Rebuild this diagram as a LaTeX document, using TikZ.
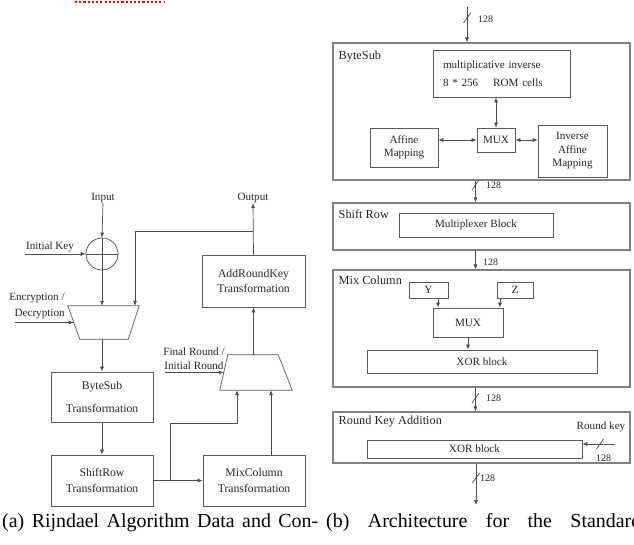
\documentclass[tikz,border=0pt]{standalone}
\usepackage{fontspec}
\setmainfont{Liberation Serif}
\usetikzlibrary{calc,positioning,arrows.meta}
\tikzset{
  wire/.style={draw=black!70, line width=0.6pt},
  arr/.style={wire, -{Latex[length=1.5mm,width=1.2mm]}},
  darr/.style={wire, {Latex[length=1.5mm,width=1.2mm]}-{Latex[length=1.5mm,width=1.2mm]}},
  blk/.style={draw=black!65, line width=0.6pt, rectangle, inner sep=0pt, align=center, text=black!85, font=\fontsize{10}{12}\selectfont},
  inblk/.style={blk, font=\fontsize{9.5}{11.5}\selectfont},
  stage/.style={draw=black!50, line width=0.9pt, rectangle, inner sep=0pt},
  stagelbl/.style={inner sep=0pt, anchor=west, text=black!85, font=\fontsize{10.5}{12.5}\selectfont},
  muxframe/.style={rectangle, inner sep=0pt},
  muxline/.style={draw=black!65, line width=0.6pt},
  lbl/.style={inner sep=0pt, align=center, text=black!85, font=\fontsize{9.5}{11.5}\selectfont},
  buslbl/.style={inner sep=0pt, anchor=west, text=black!85, font=\fontsize{8.5}{10}\selectfont},
  caption/.style={inner sep=0pt, anchor=base west, font=\fontsize{17}{20}\selectfont}
}
% slash across a bus
\newcommand{\busmark}[1]{\draw [wire] ($(#1)+(-3.5,5)$) -- ($(#1)+(3.5,-5)$);}

\begin{document}
\begin{tikzpicture}[x=0.3mm,y=-0.3mm]
  \useasboundingbox (0,0) rectangle (634,545);

  \draw [red, line width=1.2pt, dash pattern=on 1.8pt off 1.8pt] (75,2) -- (165,2);

  % (a) data and control flow
  \node [lbl] at (103,198) (input) {Input};
  \node [draw=black!70, line width=0.6pt, circle, minimum size=9.6mm, inner sep=0pt] at (102,254) (keyxor) {};
  \draw [wire] (keyxor.north) -- (keyxor.south) (keyxor.west) -- (keyxor.east);
  \node [lbl] at (50,247) (keylbl) {Initial Key};
  \coordinate (keyin) at (25,254);

  \node [muxframe, minimum width=21.3mm, minimum height=9.9mm] at (103.5,322.5) (selin) {};
  \draw [muxline] (selin.north west) -- (selin.north east) -- ($(selin.south east)+(-11,0)$) -- ($(selin.south west)+(12,0)$) -- cycle;
  \node [lbl, align=right] at (37,306) (enclbl) {Encryption /\\[1mm]Decryption};
  \coordinate (encin) at (15,322.5);

  \node [blk, minimum width=30.6mm, minimum height=15mm] at (102,397) (bytesub) {ByteSub\\[2.4mm]Transformation};
  \node [blk, minimum width=30.6mm, minimum height=15.3mm] at (102,480.5) (shiftrow) {ShiftRow\\[0.6mm]Transformation};
  \node [blk, minimum width=30.6mm, minimum height=15.3mm] at (254,480.5) (mixcol) {MixColumn\\[0.6mm]Transformation};

  \node [muxframe, minimum width=21.6mm, minimum height=10.5mm] at (256,372.5) (selout) {};
  \draw [muxline] ($(selout.north west)+(8,0)$) -- ($(selout.north east)+(-14,0)$) -- (selout.south east) -- (selout.south west) -- cycle;
  \node [lbl] at (194,358.5) (finlbl) {Final Round /\\Initial Round};
  \coordinate (finin) at (165,372.5);

  \node [blk, minimum width=30.9mm, minimum height=15.6mm] at (253.5,281) (addkey) {AddRoundKey\\Transformation};
  \node [lbl] at (253,198) (output) {Output};

  \coordinate (fbk) at (253,231);
  \coordinate (branch) at (170,480.5);
  \coordinate (bend) at (237,423);
  \coordinate (mcup) at (271,455);

  \draw [arr] (input.south) -- (keyxor.north);
  \draw [arr] (keyin) -- (keyxor.west);
  \draw [arr] (keyxor.south) -- (keyxor.south |- selin.north);
  \draw [arr] (fbk) -| ($(selin.north)+(31.5,0)$);
  \draw [arr] (encin) -- ($(selin.west)+(6,0)$);
  \draw [arr] (bytesub.north |- selin.south) -- (bytesub.north);
  \draw [arr] (bytesub.south) -- (shiftrow.north);
  \draw [arr] (shiftrow.east) -- (mixcol.west);
  \draw [arr] (branch) |- (bend) -- (bend |- selout.south);
  \draw [arr] (mcup) -- (mcup |- selout.south);
  \draw [arr] (finin) -- ($(selout.west)+(4,0)$);
  \draw [arr] (addkey.south |- selout.north) -- (addkey.south);
  \draw [arr] (addkey.north) -- (output.south);

  % (b) architecture
  \coordinate (in128) at (467,7);
  \coordinate (spine) at (475.5,0);

  \node [stage, minimum width=89.1mm, minimum height=41.1mm] at (481.5,111.5) (bsR) {};
  \node [stagelbl] at ($(bsR.north west)+(6,14)$) (bsRlbl) {ByteSub};
  \node [inblk, align=left, text width=35.1mm, minimum width=41.1mm, minimum height=14.1mm] at (501.5,73.5) (mulinv) {multiplicative inverse\\[1.3mm]8 * 256\hspace{4.5mm}ROM cells};
  \node [inblk, minimum width=11.4mm, minimum height=7.2mm] at (496,140) (bsmux) {MUX};
  \node [inblk, minimum width=20.4mm, minimum height=11.7mm] at (404,147.5) (affine) {Affine\\Mapping};
  \node [inblk, minimum width=20.7mm, minimum height=15.6mm] at (572.5,151) (invaff) {Inverse\\Affine\\Mapping};

  \node [stage, minimum width=89.1mm, minimum height=14.1mm] at (481.5,226.5) (srR) {};
  \node [stagelbl] at ($(srR.north west)+(6,12)$) (srRlbl) {Shift Row};
  \node [inblk, minimum width=46.2mm, minimum height=7.2mm] at (476,225) (mplx) {Multiplexer Block};

  \node [stage, minimum width=89.1mm, minimum height=35.1mm] at (481.5,328.5) (mcR) {};
  \node [stagelbl] at ($(mcR.north west)+(6,11)$) (mcRlbl) {Mix Column};
  \node [inblk, minimum width=11.7mm, minimum height=4.8mm] at (428.5,290) (ybox) {Y};
  \node [inblk, minimum width=10.8mm, minimum height=4.8mm] at (515,290) (zbox) {Z};
  \node [inblk, minimum width=21mm, minimum height=8.7mm] at (468,322.5) (mcmux) {\raisebox{-1.6mm}{MUX}};
  \node [inblk, minimum width=69mm, minimum height=6.9mm] at (482,361.5) (mcxor) {XOR block};
  \coordinate (ydrop) at (438,0);
  \coordinate (zdrop) at (500,0);

  \node [stage, minimum width=89.1mm, minimum height=15.3mm] at (481.5,437.5) (rkR) {};
  \node [stagelbl] at ($(rkR.north west)+(6,10)$) (rkRlbl) {Round Key Addition};
  \node [inblk, minimum width=64.5mm, minimum height=5.4mm] at (474.5,449) (rkxor) {XOR block};
  \node [lbl] at (601,427) (rklbl) {Round key};
  \coordinate (rkin) at (615,444);
  \coordinate (outR) at (476,505);

  \draw [arr] (in128) -- (in128 |- bsR.north);
  \draw [darr] (bsmux.north |- mulinv.south) -- (bsmux.north);
  \draw [darr] (affine.east |- bsmux.west) -- (bsmux.west);
  \draw [darr] (bsmux.east) -- (bsmux.east -| invaff.west);
  \draw [arr] (spine |- bsR.south) -- (spine |- srR.north);
  \draw [arr] (spine |- srR.south) -- (spine |- mcR.north);
  \draw [arr] (ydrop |- ybox.south) -- (ydrop |- mcmux.north);
  \draw [arr] (zdrop |- zbox.south) -- (zdrop |- mcmux.north);
  \draw [arr] (mcmux.south) -- (mcmux.south |- mcxor.north);
  \draw [arr] (spine |- mcR.south) -- (spine |- rkR.north);
  \draw [arr] (rkin) -- (rkin -| rkxor.east);
  \draw [arr] (outR |- rkR.south) -- (outR);

  \coordinate (bm1) at (467,18);
  \coordinate (bm2) at (475.5,185);
  \coordinate (bm3) at (475.5,398);
  \coordinate (bm4) at (600,444);
  \coordinate (bm5) at (476,478);
  \busmark{bm1} \busmark{bm2} \busmark{bm3} \busmark{bm4} \busmark{bm5}
  \node [buslbl] at (478,19) (w1) {128};
  \node [buslbl] at (486,185) (w2) {128};
  \node [buslbl] at (483,262) (w3) {128};
  \node [buslbl] at (486,398) (w4) {128};
  \node [buslbl] at (596,458) (w5) {128};
  \node [buslbl] at (480,478) (w6) {128};

  % sub-captions
  \node [caption] at (2,527) (capa) {\makebox[94.8mm][s]{(a) Rijndael Algorithm Data and Con-}};
  \node [caption] at (326,527) (capb) {\makebox[94.5mm][s]{(b) Architecture for the Standard}};
\end{tikzpicture}
\end{document}
